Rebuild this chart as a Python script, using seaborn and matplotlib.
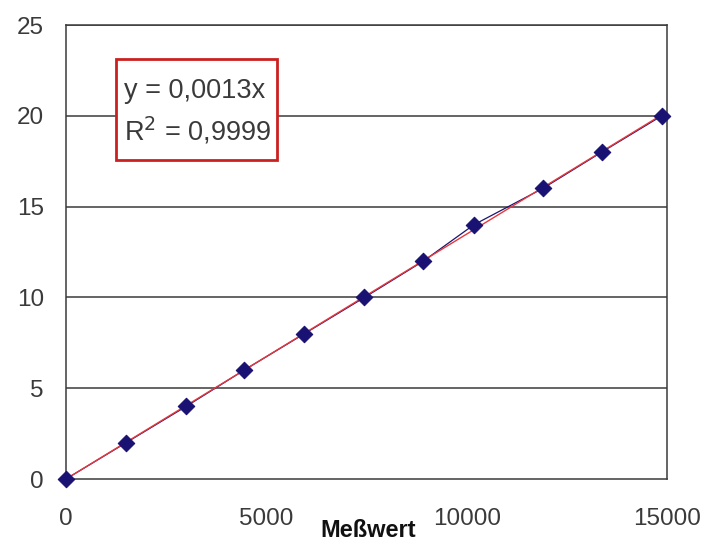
import numpy as np
import pandas as pd
import matplotlib
matplotlib.use("Agg")
import matplotlib.pyplot as plt
from matplotlib.patches import Rectangle
import seaborn as sns

# ---- data ----
messwert = [0, 1500, 3000, 4450, 5950, 7450, 8920, 10180, 11900, 13370, 14870]
konzentration = [0, 2, 4, 6, 8, 10, 12, 14, 16, 18, 20]
x_ticks = [0, 5000, 10000, 15000]
y_ticks = [0, 5, 10, 15, 20, 25]
eq_text = "y = 0,0013x"
r2_text = "R$^2$ = 0,9999"
x_label = "Meßwert"

sns.set_style("white")
plt.rcParams["font.family"] = ["Liberation Sans", "DejaVu Sans"]

df = pd.DataFrame({"x": messwert, "y": konzentration})
xa = np.array(messwert, float)
ya = np.array(konzentration, float)
slope = (xa * ya).sum() / (xa * xa).sum()
trend = pd.DataFrame({"x": [0, xa.max()], "y": [0, slope * xa.max()]})

W, H = 707, 548
fig = plt.figure(figsize=(W / 100, H / 100), dpi=100)
L, R, T, B = 66, 667, 25, 479
ax = fig.add_axes([L / W, (H - B) / H, (R - L) / W, (B - T) / H])

grid_c = "#3a3a3a"
for yv in y_ticks[1:]:
    ax.axhline(yv, color=grid_c, lw=1.1, zorder=1)

sns.lineplot(data=df, x="x", y="y", ax=ax, color="#1c1470", lw=0.9,
             sort=False, zorder=3)
sns.lineplot(data=trend, x="x", y="y", ax=ax, color="#e8383c", lw=1.0,
             zorder=4)
sns.scatterplot(data=df, x="x", y="y", ax=ax, marker="D", s=70,
                color="#1a1272", edgecolor="#1a1272", linewidth=0.8,
                zorder=5, clip_on=False)

ax.set_xlim(0, 15000)
ax.set_ylim(0, 25)
ax.set_xticks(x_ticks)
ax.set_yticks(y_ticks)
ax.set_xticklabels([str(v) for v in x_ticks])
ax.set_yticklabels([str(v) for v in y_ticks])
ax.tick_params(axis="x", direction="out", length=6, width=1.1, color=grid_c,
               pad=15, labelsize=17.5, labelcolor="#3a3a3a")
ax.tick_params(axis="y", direction="out", length=6, width=1.1, color=grid_c,
               pad=10, labelsize=17.5, labelcolor="#3a3a3a")
for s in ["left", "right", "bottom", "top"]:
    ax.spines[s].set_visible(True)
    ax.spines[s].set_color(grid_c)
    ax.spines[s].set_linewidth(1.1)

ax.set_ylabel("")
ax.set_xlabel(x_label, fontsize=17, fontweight="bold", color="#111111")
ax.xaxis.set_label_coords((368 - L) / (R - L), (B - 519) / (B - T))

# equation box
bx0, bx1, by0, by1 = 116, 277, 59, 160
ax.add_patch(Rectangle(((bx0 - L) / (R - L), (B - by1) / (B - T)),
                       (bx1 - bx0) / (R - L), (by1 - by0) / (B - T),
                       transform=ax.transAxes, facecolor="white",
                       edgecolor="#cc2020", lw=2.0, zorder=6))
ax.text((124 - L) / (R - L), (B - 91) / (B - T), eq_text,
        transform=ax.transAxes, fontsize=19.5, color="#3a3a3a",
        ha="left", va="center", zorder=7)
ax.text((124 - L) / (R - L), (B - 131) / (B - T), r2_text,
        transform=ax.transAxes, fontsize=19.5, color="#3a3a3a",
        ha="left", va="center", zorder=7)

fig.savefig("out.png", dpi=100, facecolor="white")
